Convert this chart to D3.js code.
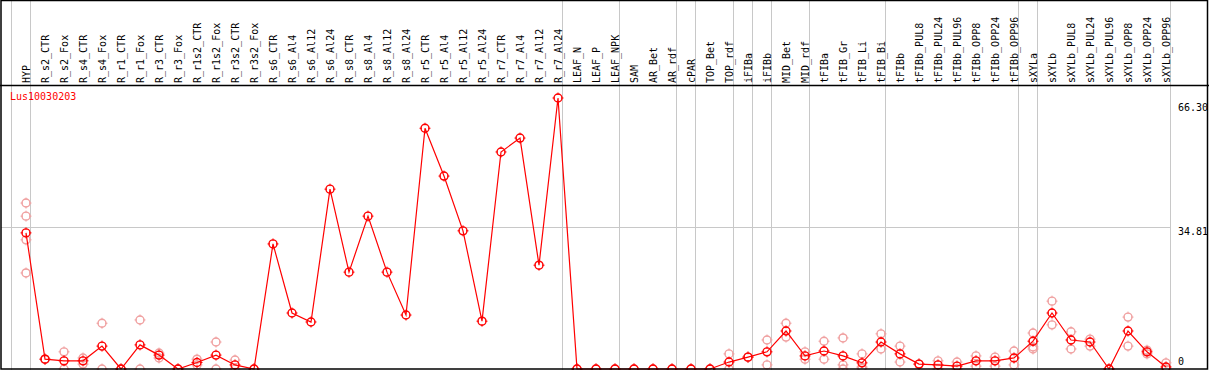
<!DOCTYPE html>
<html>
<head>
<meta charset="utf-8">
<script src="https://cdn.jsdelivr.net/npm/d3@7"></script>
<style>
  body { margin: 0; background: #fff; }
  text { font-family: "DejaVu Sans Mono", monospace; font-size: 10px; }
</style>
</head>
<body>
<script>
var categories = ["HYP", "R_s2_CTR", "R_s2_Fox", "R_s4_CTR", "R_s4_Fox", "R_r1_CTR", "R_r1_Fox",
  "R_r3_CTR", "R_r3_Fox", "R_r1s2_CTR", "R_r1s2_Fox", "R_r3s2_CTR", "R_r3s2_Fox",
  "R_s6_CTR", "R_s6_Al4", "R_s6_Al12", "R_s6_Al24", "R_s8_CTR", "R_s8_Al4", "R_s8_Al12", "R_s8_Al24",
  "R_r5_CTR", "R_r5_Al4", "R_r5_Al12", "R_r5_Al24", "R_r7_CTR", "R_r7_Al4", "R_r7_Al12", "R_r7_Al24",
  "LEAF_N", "LEAF_P", "LEAF_NPK", "SAM", "AR_Bet", "AR_rdf", "cPAR", "TOP_Bet", "TOP_rdf",
  "iFIBa", "iFIBb", "MID_Bet", "MID_rdf", "tFIBa", "tFIB_Gr", "tFIB_Li", "tFIB_Bi", "tFIBb",
  "tFIBb_PUL8", "tFIBb_PUL24", "tFIBb_PUL96", "tFIBb_OPP8", "tFIBb_OPP24", "tFIBb_OPP96",
  "sXYLa", "sXYLb", "sXYLb_PUL8", "sXYLb_PUL24", "sXYLb_PUL96", "sXYLb_OPP8", "sXYLb_OPP24", "sXYLb_OPP96"];

var means = [33.3, 2.4, 2.0, 2.0, 5.6, 0, 5.9, 3.4, 0, 1.6, 3.4, 1.0, 0,
  30.6, 13.7, 11.5, 44.0, 23.7, 37.4, 23.7, 13.2,
  58.9, 47.2, 33.8, 11.7, 53.1, 56.5, 25.4, 66.3,
  0, 0, 0, 0, 0, 0, 0, 0, 1.7,
  2.9, 4.2, 9.3, 3.2, 4.4, 3.2, 1.5, 6.6, 3.7,
  1.2, 1.0, 0.7, 2.0, 2.0, 2.7,
  6.8, 13.7, 7.1, 6.6, 0, 9.3, 4.2, 0.5];

var replicates = [[40.6, 37.4, 31.6, 23.5], [2.4, 2.4], [4.2, 0], [2.7, 1.2], [11.2, 0], [0, 0], [12.0, 0],
  [3.9, 2.7], [0, 0], [2.4, 1.0], [6.6, 0], [2.2, 0], [0, 0],
  [], [], [], [], [], [], [], [],
  [], [], [], [], [], [], [], [],
  [0, 0], [0, 0], [0, 0], [0, 0], [0, 0], [0, 0], [0, 0], [0, 0], [3.7, 0],
  [2.9, 2.9], [7.1, 1.0], [11.2, 7.8], [4.2, 2.4], [6.8, 2.4], [7.6, 1.0, 0], [3.7, 0.2, 0.5], [8.6, 4.9], [5.6, 1.7],
  [1.2, 1.2], [2.0, 0], [1.7, 0], [3.2, 0.7], [2.9, 0.7], [4.4, 1.0],
  [8.8, 5.4, 4.9], [16.6, 10.8], [9.1, 4.9], [7.3, 5.6], [0, 0], [12.7, 5.6], [4.6, 3.7], [1.5, 0]];

// group separators drawn after these column indexes
var separators = [-1, 0, 28, 31, 34, 35, 37, 38, 39, 41, 45, 52, 53, 60];
var yTicks = [0, 34.81, 66.30];
var geneName = "Lus10030203";

var W = 1209, H = 370;
var svg = d3.select("body").append("svg")
  .attr("width", W)
  .attr("height", H);

var x = d3.scaleLinear().domain([0, categories.length - 1]).range([26, 1166]);
var y = d3.scaleLinear().domain([0, 66.3]).range([369, 98]);

// vertical group lines
svg.selectAll("line.sep")
  .data(separators)
  .enter().append("line")
  .attr("class", "sep")
  .attr("x1", function(d) { return Math.round(x(d)) + 4.5; })
  .attr("x2", function(d) { return Math.round(x(d)) + 4.5; })
  .attr("y1", 0)
  .attr("y2", H)
  .attr("stroke", "#c8c8c8")
  .attr("stroke-width", 1);

// horizontal grid line for middle tick
svg.selectAll("line.hgrid")
  .data(yTicks.filter(function(d) { return d > 0 && d < 66; }))
  .enter().append("line")
  .attr("class", "hgrid")
  .attr("x1", 1)
  .attr("x2", Math.round(x(60)) + 4.5)
  .attr("y1", function(d) { return Math.round(y(d)) + 0.5; })
  .attr("y2", function(d) { return Math.round(y(d)) + 0.5; })
  .attr("stroke", "#c8c8c8");

// header line
svg.append("line")
  .attr("x1", 0).attr("x2", W)
  .attr("y1", 85.5).attr("y2", 85.5)
  .attr("stroke", "black")
  .attr("stroke-width", 1.5);

// column labels
svg.selectAll("text.cat")
  .data(categories)
  .enter().append("text")
  .attr("class", "cat")
  .attr("transform", function(d, i) { return "translate(" + (x(i) + 0.5) + ",83) rotate(-90)"; })
  .attr("dominant-baseline", "middle")
  .attr("fill", "black")
  .text(function(d) { return d; });

// y tick labels
var labelOffset = { 0: -7, 34.81: 5, 66.3: 10 };
svg.selectAll("text.ytick")
  .data(yTicks)
  .enter().append("text")
  .attr("class", "ytick")
  .attr("x", 1178)
  .attr("y", function(d) { return y(d) + labelOffset[d]; })
  .attr("dominant-baseline", "middle")
  .text(function(d) { return d === 0 ? "0" : d.toFixed(2); });

svg.append("text")
  .attr("x", 10)
  .attr("y", 97)
  .attr("dominant-baseline", "middle")
  .attr("fill", "red")
  .text(geneName);

function marker(g, cx, cy, color) {
  g.append("circle")
    .attr("cx", cx).attr("cy", cy).attr("r", 4)
    .attr("fill", "none")
    .attr("stroke", color)
    .attr("stroke-width", 1.4);
  [[0, -1], [0, 1], [-1, 0], [1, 0]].forEach(function(v) {
    g.append("line")
      .attr("x1", cx + v[0] * 3).attr("y1", cy + v[1] * 3)
      .attr("x2", cx + v[0] * 5.5).attr("y2", cy + v[1] * 5.5)
      .attr("stroke", color)
      .attr("stroke-width", 1);
  });
}

// replicates
var repG = svg.append("g");
replicates.forEach(function(reps, i) {
  reps.forEach(function(v) {
    marker(repG, x(i), y(v), "#f0a0a0");
  });
});

// mean line
var line = d3.line()
  .x(function(d, i) { return x(i); })
  .y(function(d) { return y(d); });

svg.append("path")
  .datum(means)
  .attr("d", line)
  .attr("fill", "none")
  .attr("stroke", "red")
  .attr("stroke-width", 1.2);

var meanG = svg.append("g");
means.forEach(function(v, i) {
  marker(meanG, x(i), y(v), "red");
});

// border
svg.append("rect")
  .attr("x", 1).attr("y", 0.5)
  .attr("width", W - 2.5).attr("height", H - 1.5)
  .attr("fill", "none")
  .attr("stroke", "black")
  .attr("stroke-width", 1.5);
</script>
</body>
</html>
